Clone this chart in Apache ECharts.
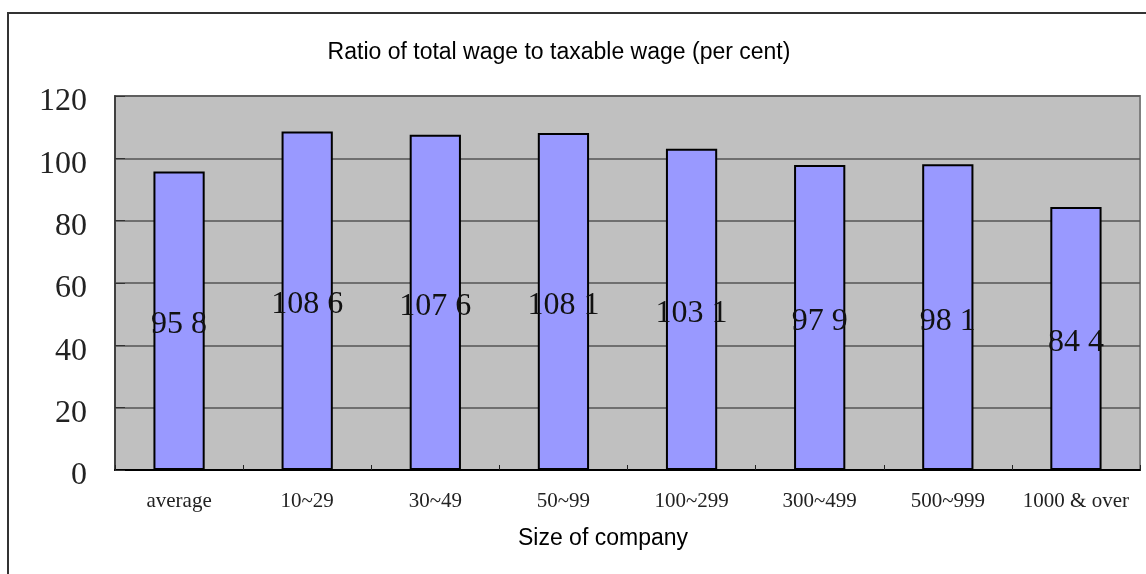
<!DOCTYPE html>
<html>
<head>
<meta charset="utf-8">
<script src="https://cdn.jsdelivr.net/npm/echarts@6/dist/echarts.min.js"></script>
<style>html,body{margin:0;padding:0;background:#fff}#c{width:1146px;height:574px}</style>
</head>
<body>
<div id="c"></div>
<script>
const categories = ["average", "10~29", "30~49", "50~99", "100~299", "300~499", "500~999", "1000 & over"];
const values = [95.8, 108.6, 107.6, 108.1, 103.1, 97.9, 98.1, 84.4];
const yTicks = [0, 20, 40, 60, 80, 100, 120];
const titleText = "Ratio of total wage to taxable wage (per cent)";
const xAxisName = "Size of company";

const chart = echarts.init(document.getElementById('c'));
const serif = '"Liberation Serif", "DejaVu Serif", serif';
const sans = '"Liberation Sans", Arial, sans-serif';
chart.setOption({
  animation: false,
  backgroundColor: '#ffffff',
  grid: {
    left: 115, right: 6, top: 96, bottom: 104,
    show: true, backgroundColor: '#C0C0C0', borderColor: '#808080', borderWidth: 2
  },
  graphic: [
    { type: 'rect', shape: { x: 8, y: 13, width: 1160, height: 600 },
      style: { fill: 'none', stroke: '#333333', lineWidth: 2 }, z: -10, silent: true },
    { type: 'text', x: 559, y: 53, style: { text: titleText, font: '23px ' + sans, fill: '#000', align: 'center', verticalAlign: 'middle' } },
    { type: 'text', x: 603, y: 539, style: { text: xAxisName, font: '23px ' + sans, fill: '#000', align: 'center', verticalAlign: 'middle' } }
  ],
  xAxis: {
    type: 'category',
    data: categories,
    axisLine: { show: true, lineStyle: { color: '#000', width: 2 } },
    axisTick: { show: true, inside: true, length: 5, lineStyle: { color: '#222', width: 1 } },
    axisLabel: { color: '#222', fontFamily: serif, fontSize: 21, margin: 21, interval: 0 },
    splitLine: { show: false }
  },
  yAxis: {
    type: 'value',
    min: yTicks[0], max: yTicks[yTicks.length - 1], interval: yTicks[1] - yTicks[0],
    axisLine: { show: true, lineStyle: { color: '#404040', width: 2 } },
    axisTick: { show: true, inside: true, length: 10, lineStyle: { color: '#333', width: 1 } },
    axisLabel: { color: '#222', fontFamily: serif, fontSize: 32, margin: 28, verticalAlign: 'top', lineHeight: 12 },
    splitLine: { show: true, lineStyle: { color: '#555555', width: 1.5 } }
  },
  series: [{
    type: 'bar',
    data: values,
    barWidth: '40%',
    itemStyle: { color: '#9999FF', borderColor: '#000', borderWidth: 2 },
    label: {
      show: true, position: 'inside', offset: [0, 4], color: '#111', fontFamily: serif, fontSize: 32,
      formatter: p => String(p.value).replace('.', ' ')
    }
  }]
});
</script>
</body>
</html>
